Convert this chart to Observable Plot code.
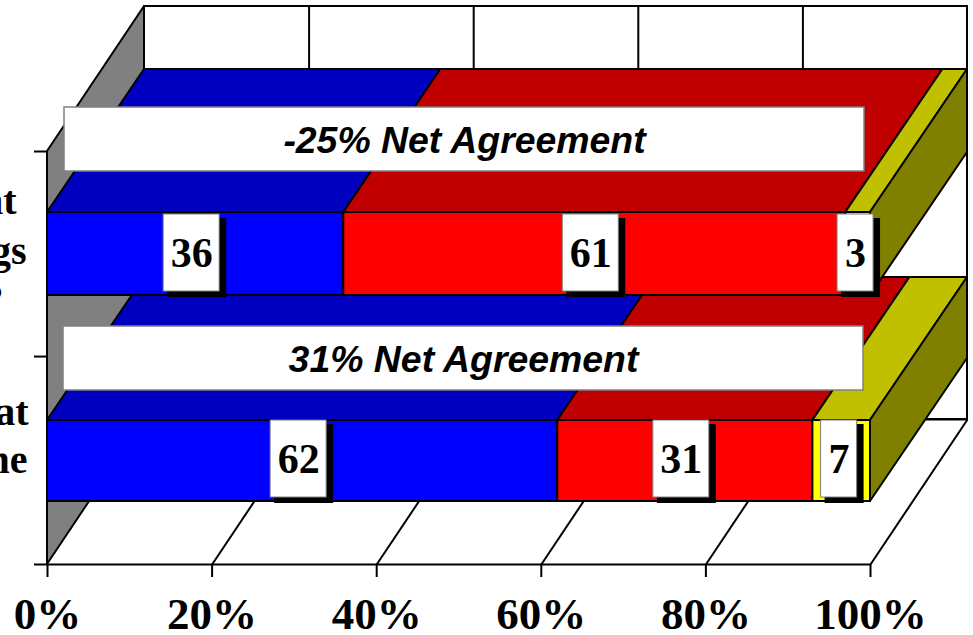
<!DOCTYPE html>
<html><head><meta charset="utf-8">
<style>html,body{margin:0;padding:0;background:#fff;overflow:hidden}svg{display:block}</style>
<script src="https://cdn.jsdelivr.net/npm/d3@7"></script>
<script src="https://cdn.jsdelivr.net/npm/@observablehq/plot@0.6"></script>
</head><body><div id="chart"></div>
<script>
// data
const agree = [36, 62];
const disagree = [61, 31];
const unsure = [3, 7];
const netLabels = ["-25% Net Agreement", "31% Net Agreement"];
const xTicks = [0, 20, 40, 60, 80, 100];
const clippedLabels = ["that", "things", "?", "that", "one"];

// geometry (data units of the two scales)
const pxX = 8.23, pxY = 206.5;
const DX = 97 / pxX, DY = 145 / pxY, BARDY = 143 / pxY;
const rowBottom = [(564 - 295) / pxY, (564 - 501) / pxY];
const rowTop = [(564 - 212) / pxY, (564 - 420) / pxY];
const tagBottom = [(564 - 291) / pxY, (564 - 497) / pxY];
const tagTop = [(564 - 214) / pxY, (564 - 420) / pxY];
const netBottom = [(564 - 171) / pxY, (564 - 390) / pxY];
const netTop = [(564 - 107) / pxY, (564 - 326) / pxY];
const netX = [[64, 864], [63, 863]].map(r => r.map(p => (p - 47) / pxX));
const front = ["#0000ff", "#ff0000", "#ffff00"];
const topFace = ["#0000c0", "#c00000", "#c0c000"];
const sideFace = "#808000";
const line = {stroke: "#000", strokeWidth: 2};

const marks = [];
// walls
marks.push(Plot.rect([0], {x1: DX, x2: 100 + DX, y1: DY, y2: 2 + DY, fill: "#fff", ...line}));
marks.push(Plot.areaY([{x: 0, y1: 0, y2: 2}, {x: DX, y1: DY, y2: 2 + DY}], {x: "x", y1: "y1", y2: "y2", fill: "#808080", ...line}));
// grid
const grid = xTicks.slice(1);
marks.push(Plot.link(grid, {x1: d => d, y1: 0, x2: d => d + DX, y2: DY, ...line}));
marks.push(Plot.link(grid.slice(0, -1), {x1: d => d + DX, y1: DY, x2: d => d + DX, y2: 2 + DY, ...line}));
marks.push(Plot.ruleY([0], {x1: 0, x2: 100, ...line}));
marks.push(Plot.ruleY([DY], {x1: DX, x2: 100 + DX, ...line}));

// bars, back row first
const series = [agree, disagree, unsure];
const barMarks = row => {
  const vals = series.map(s => s[row]);
  const ends = Array.from(d3.cumsum(vals));
  const b = rowBottom[row], t = rowTop[row];
  vals.forEach((v, i) => {
    const a = ends[i] - v, e = ends[i];
    marks.push(Plot.areaX([{x1: a, x2: e, y: t}, {x1: a + DX, x2: e + DX, y: t + BARDY}], {x1: "x1", x2: "x2", y: "y", fill: topFace[i], ...line}));
    marks.push(Plot.rect([0], {x1: a, x2: e, y1: b, y2: t, fill: front[i], ...line}));
  });
  const end = ends[2];
  marks.push(Plot.areaY([{x: end, y1: b, y2: t}, {x: end + DX, y1: b + BARDY, y2: t + BARDY}], {x: "x", y1: "y1", y2: "y2", fill: sideFace, ...line}));
  // value tags
  vals.forEach((v, i) => {
    const wide = String(v).length > 1;
    const half = (wide ? 28 : 18) / pxX;
    const c = ends[i] - v / 2 - (wide ? 4 : 2.6) / pxX;
    const bot = tagBottom[row], top = tagTop[row];
    marks.push(Plot.rect([0], {x1: c - half + 4 / pxX, x2: c + half + 7 / pxX, y1: bot - 6 / pxY, y2: top - 4 / pxY, fill: "#000"}));
    marks.push(Plot.rect([0], {x1: c - half, x2: c + half, y1: bot, y2: top, fill: "#fff", stroke: "#808080", strokeWidth: 1}));
    marks.push(Plot.text([v], {x: c, y: (bot + top) / 2, dy: 1, text: d => String(d), fontSize: 42, fontWeight: "bold", fontFamily: "Liberation Serif", fill: "#000"}));
  });
};
barMarks(1);
barMarks(0);

// net agreement banners
netLabels.forEach((s, i) => {
  const c = (netX[i][0] + netX[i][1]) / 2;
  marks.push(Plot.rect([0], {x1: netX[i][0], x2: netX[i][1], y1: netBottom[i], y2: netTop[i], fill: "#fff", stroke: "#808080", strokeWidth: 1.5}));
  marks.push(Plot.text([s], {x: c, y: (netBottom[i] + netTop[i]) / 2, dy: 2, text: d => d, fontSize: 37.4, fontWeight: "bold", fontStyle: "italic", fontFamily: "Liberation Sans", fill: "#000"}));
});

// clipped category labels running off the left edge
const labelRows = [[16, 201], [26, 251], [3, 299], [28, 412], [27, 460]];
marks.push(Plot.text(clippedLabels, {
  x: (d, i) => (labelRows[i][0] - 47) / pxX,
  y: (d, i) => (564 - labelRows[i][1]) / pxY,
  text: d => d, textAnchor: "end", fontSize: 40, fontWeight: "bold", fontFamily: "Liberation Serif", fill: "#000"
}));

// axes
marks.push(Plot.axisX({ticks: xTicks, tickFormat: d => d + "%", tickSize: 13, tickPadding: 20, fontSize: 45, fontWeight: "bold", fontFamily: "Liberation Serif", stroke: "#000", strokeWidth: 2, fill: "#000", label: null}));
marks.push(Plot.axisY({ticks: [0, 1.007, 2], tickFormat: () => "", tickSize: 13, stroke: "#000", strokeWidth: 2, label: null}));

const chart = Plot.plot({
  width: 973, height: 635,
  marginLeft: 47, marginRight: 103, marginTop: 6, marginBottom: 71,
  x: {domain: [0, 100]},
  y: {domain: [0, 558 / pxY]},
  style: {background: "#fff", overflow: "hidden"},
  marks
});
document.getElementById("chart").append(chart);
</script></body></html>
